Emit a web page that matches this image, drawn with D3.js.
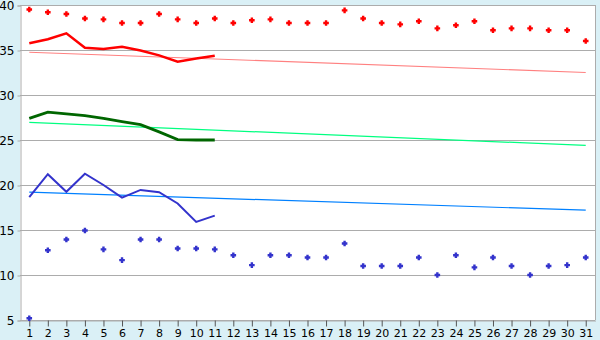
<!DOCTYPE html>
<html>
<head>
    <meta charset="utf-8">
    <title>Daily chart</title>
    <style>
        body { margin: 0; background: #daf0f6 }
        svg { display: block }
        text { font-family: "DejaVu Sans", Verdana, sans-serif; font-size: 11px; fill: #000 }
    </style>
    <script src="https://cdnjs.cloudflare.com/ajax/libs/d3/7.8.5/d3.min.js"></script>
</head>
<body>
    <script>
        const days = d3.range(1, 32)
        const yTicks = [5, 10, 15, 20, 25, 30, 35, 40]

        // red series
        const redDots = [39.5, 39.2, 39, 38.5, 38.4, 38, 38, 39, 38.4, 38, 38.5, 38, 38.3, 38.4, 38, 38,
            38, 39.4, 38.5, 38, 37.85, 38.2, 37.4, 37.75, 38.2, 37.2, 37.4, 37.4, 37.2, 37.2, 36]
        const redLine = [35.75, 36.2, 36.85, 35.25, 35.1, 35.35, 34.95, 34.4, 33.7, 34.05, 34.35]
        const redTrend = [34.75, 32.5]

        // green series
        const greenLine = [27.4, 28.1, 27.9, 27.7, 27.4, 27.05, 26.7, 25.9, 25.05, 25, 25]
        const greenTrend = [26.95, 24.4]

        // blue series
        const blueLine = [18.65, 21.2, 19.25, 21.25, 20, 18.6, 19.45, 19.2, 17.95, 15.9, 16.6]
        const blueTrend = [19.2, 17.2]
        const blueDots = [5.2, 12.75, 13.95, 14.95, 12.85, 11.65, 13.95, 13.95, 12.95, 12.95, 12.85, 12.2,
            11.1, 12.2, 12.2, 11.95, 11.95, 13.5, 11, 11, 11, 11.95, 10, 12.2, 10.85, 11.95, 11, 10, 11, 11.1, 11.95]

        const width = 600
        const height = 340
        const mLeft = 20, mRight = 595, mTop = 5, mBottom = 320

        let svg = d3.select("body").append("svg")
            .attr("width", width)
            .attr("height", height)

        svg.append("rect")
            .attr("x", mLeft).attr("y", mTop)
            .attr("width", mRight - mLeft).attr("height", mBottom - mTop)
            .attr("fill", "#fff")

        let x = d3.scaleBand().domain(days).range([mLeft, mRight])
        let xc = d => x(d) + x.bandwidth() / 2
        let y = d3.scaleLinear().domain([5, 40]).range([mBottom, mTop])

        // gridlines
        svg.append("g")
            .selectAll("line")
            .data(yTicks)
            .enter()
            .append("line")
                .attr("x1", mLeft).attr("x2", mRight)
                .attr("y1", d => y(d) + 0.5).attr("y2", d => y(d) + 0.5)
                .attr("stroke", "#acacac")

        svg.append("line")
            .attr("x1", mRight + 0.5).attr("x2", mRight + 0.5)
            .attr("y1", mTop).attr("y2", mBottom)
            .attr("stroke", "#acacac")

        let yAxis = svg.append("g")
            .attr("transform", `translate(${mLeft + 0.5}, 0.5)`)
            .call(d3.axisLeft(y).tickValues(yTicks).tickSize(3).tickPadding(3))
        yAxis.select(".domain").attr("stroke", "#acacac")
        yAxis.selectAll(".tick line").attr("stroke", "#acacac")
        yAxis.selectAll("text").style("font-size", "12px")

        let xAxis = svg.append("g")
            .attr("transform", `translate(0.5, ${mBottom + 0.5})`)
            .call(d3.axisBottom(x).tickSize(6).tickSizeOuter(0).tickPadding(3))
        xAxis.select(".domain").attr("stroke", "#acacac")
        xAxis.selectAll(".tick line").attr("stroke", "#555")

        let line = d3.line()
            .x((d, i) => xc(days[i]))
            .y(d => y(d))

        let trend = d3.line()
            .x((d, i) => xc(i == 0 ? days[0] : days[days.length - 1]))
            .y(d => y(d))

        svg.append("path").attr("d", trend(redTrend))
            .attr("fill", "none").attr("stroke", "#ff8080").attr("stroke-width", 1.2)
        svg.append("path").attr("d", trend(greenTrend))
            .attr("fill", "none").attr("stroke", "#00ff80").attr("stroke-width", 1.2)
        svg.append("path").attr("d", trend(blueTrend))
            .attr("fill", "none").attr("stroke", "#0080ff").attr("stroke-width", 1.2)

        svg.append("path").attr("d", line(redLine))
            .attr("fill", "none").attr("stroke", "#ff0000").attr("stroke-width", 2.5)
        svg.append("path").attr("d", line(greenLine))
            .attr("fill", "none").attr("stroke", "#006600").attr("stroke-width", 2.8)
        svg.append("path").attr("d", line(blueLine))
            .attr("fill", "none").attr("stroke", "#3333cc").attr("stroke-width", 2)

        // chunky plus marker
        let marker = "M-1.2,-2.8h2.4v1.6h1.6v2.4h-1.6v1.6h-2.4v-1.6h-1.6v-2.4h1.6z"

        svg.selectAll(".reddots")
            .data(redDots)
            .enter()
            .append("path")
                .attr("class", "reddots")
                .attr("d", marker)
                .attr("transform", (d, i) => `translate(${xc(days[i])}, ${y(d)})`)
                .attr("fill", "#ff0000")

        svg.selectAll(".bluedots")
            .data(blueDots)
            .enter()
            .append("path")
                .attr("class", "bluedots")
                .attr("d", marker)
                .attr("transform", (d, i) => `translate(${xc(days[i])}, ${y(d)})`)
                .attr("fill", "#3333cc")
    </script>
</body>
</html>
